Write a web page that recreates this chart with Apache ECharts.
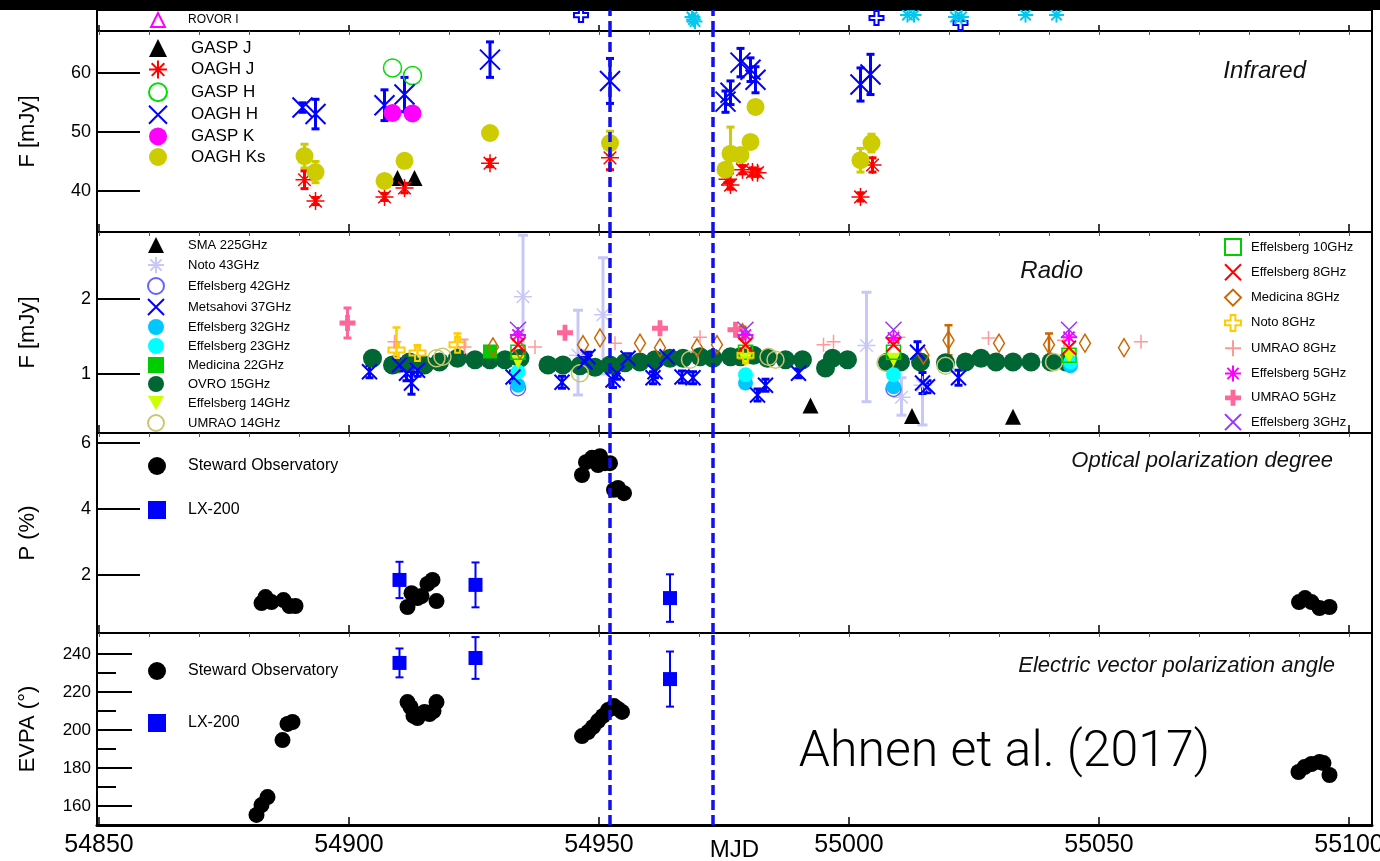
<!DOCTYPE html>
<html>
<head>
<meta charset="utf-8">
<script src="https://cdn.jsdelivr.net/npm/echarts@6.0.0/dist/echarts.min.js"></script>
<style>
html, body { margin: 0; background: #fff; }
#chart { width: 1380px; height: 861px; }
</style>
</head>
<body>
<div id="chart"></div>
<script>
// ---- x axis (MJD) ----
const majorX = [54850, 54900, 54950, 55000, 55050, 55100];
const minorX = [54850, 54860, 54870, 54880, 54890, 54900, 54910, 54920, 54930, 54940, 54950, 54960,
  54970, 54980, 54990, 55000, 55010, 55020, 55030, 55040, 55050, 55060, 55070, 55080, 55090, 55100];
const eventLines = [54952.2, 54972.8];

// ---- top strip (optical panel, cut off) ----
const topCross = [[54946.4, 0.76], [55005.5, 0.62], [55022.3, 0.38]];
const topStar = [[54968.6, 0.67], [54968.9, 0.55], [54969.2, 0.45], [55011.7, 0.76], [55013.0, 0.76],
  [55021.3, 0.67], [55022.5, 0.67], [55035.3, 0.76], [55041.5, 0.76]];

// ---- infrared [MJD, mJy, err] ----
const irGaspJ = [[54909.7, 42.2], [54913.1, 42.2]];
const irOaghJ = [[54891.1, 41.9, 1.5], [54893.3, 38.3, 0.6], [54907.1, 39.0, 0.6], [54911.1, 40.5, 0.8],
  [54928.2, 44.7, 0.6], [54952.2, 45.6, 2.0], [54975.7, 42.0, 0.6], [54976.3, 41.0, 0.7], [54978.7, 43.6, 0.7],
  [54980.7, 43.2, 0.7], [54981.7, 43.1, 0.6], [55002.3, 39.0, 0.7], [55004.7, 44.4, 1.2]];
const irGaspH = [[54908.7, 60.8], [54912.7, 59.5]];
const irOaghH = [[54890.7, 54.1, 0.8], [54893.3, 53.0, 2.5], [54907.1, 54.5, 2.6], [54911.1, 56.3, 2.9],
  [54928.2, 62.2, 3.0], [54952.2, 58.6, 3.8], [54975.3, 55.1, 1.8], [54976.3, 56.6, 2.0], [54978.3, 61.7, 2.4],
  [54980.3, 60.5, 2.0], [54981.3, 58.8, 2.2], [55002.3, 58.0, 2.8], [55004.3, 59.7, 3.4]];
const irGaspK = [[54908.7, 53.2], [54912.7, 53.1]];
const irOaghKs = [[54891.1, 45.9, 2.0], [54893.3, 43.2, 1.8], [54907.1, 41.7, 0], [54911.1, 45.1, 0],
  [54928.2, 49.8, 0], [54952.2, 48.1, 2.0], [54975.3, 43.6, 0.6], [54976.3, 46.3, 4.5], [54978.3, 46.1, 0],
  [54980.3, 48.3, 0], [54981.3, 54.2, 0], [55002.3, 45.2, 2.0], [55004.5, 48.1, 1.5]];

// ---- radio [MJD, Jy, err] or [MJD, Jy, lo, hi] ----
const rSma = [[54992.3, 0.58], [55012.6, 0.44], [55032.8, 0.43]];
const rNoto43 = [[54934.8, 2.03, 1.2, 2.85], [54945.8, 1.25, 0.72, 1.85], [54950.8, 1.79, 1.0, 2.55],
  [55003.5, 1.38, 0.63, 2.09], [55010.5, 0.69, 0.45, 0.95], [55014.7, 0.85, 0.32, 1.15]];
const rEff42 = [[54933.8, 0.81], [55008.9, 0.8]];
const rMets = [[54904.1, 1.03, 0.08], [54910.1, 1.12, 0.08], [54911.5, 1.01, 0.1], [54912.5, 0.88, 0.15],
  [54913.7, 1.05, 0.08], [54932.8, 0.96, 0.08], [54942.6, 0.89, 0.08], [54947.2, 1.16, 0.08], [54947.8, 1.23, 0.06],
  [54952.8, 0.92, 0.1], [54953.6, 1.01, 0.08], [54955.8, 1.21, 0.06], [54960.8, 0.95, 0.08], [54961.2, 1.03, 0.08],
  [54963.6, 1.23, 0.06], [54966.6, 0.96, 0.08], [54968.8, 0.95, 0.08], [54981.7, 0.72, 0.08], [54983.3, 0.85, 0.08],
  [54989.9, 1.01, 0.06], [55013.7, 1.29, 0.14], [55014.7, 0.88, 0.14], [55015.7, 0.83, 0.08], [55021.9, 0.95, 0.1]];
const rEff32 = [[54933.8, 0.85], [54979.3, 0.88], [55008.9, 0.83], [55044.3, 1.11]];
const rEff23 = [[54933.8, 1.03], [54979.3, 0.99], [55008.9, 0.99], [55044.3, 1.16]];
const rMed22 = [[54928.2, 1.30]];
const rOvro = [[54904.7, 1.21], [54908.7, 1.12], [54912.1, 1.16], [54915.1, 1.12], [54918.1, 1.16], [54921.7, 1.21],
  [54925.2, 1.19], [54928.2, 1.19], [54931.2, 1.19], [54934.2, 1.21], [54939.8, 1.12], [54942.8, 1.12],
  [54946.2, 1.11], [54949.2, 1.09], [54952.2, 1.12], [54955.2, 1.15], [54958.2, 1.16], [54961.2, 1.19],
  [54964.2, 1.21], [54966.8, 1.21], [54970.2, 1.23], [54972.8, 1.21], [54976.3, 1.23], [54978.3, 1.23],
  [54980.9, 1.25], [54983.7, 1.21], [54987.3, 1.19], [54990.7, 1.19], [54995.3, 1.08], [54996.7, 1.21],
  [54999.7, 1.19], [55007.7, 1.16], [55010.3, 1.16], [55014.3, 1.16], [55019.3, 1.15], [55023.3, 1.16],
  [55026.4, 1.21], [55029.4, 1.16], [55032.8, 1.16], [55036.4, 1.16], [55040.4, 1.16], [55043.4, 1.16]];
const rEff14 = [[54933.8, 1.16], [54979.3, 1.19], [55008.9, 1.19], [55044.0, 1.23]];
const rUmrao14 = [[54917.5, 1.21], [54918.7, 1.23], [54946.2, 1.01], [54968.2, 1.19], [54983.9, 1.23],
  [54985.3, 1.19], [55007.3, 1.15], [55019.3, 1.11], [55041.0, 1.16]];
const rEff10 = [[54933.8, 1.29], [54979.3, 1.29], [55008.9, 1.29], [55044.0, 1.25]];
const rEff8 = [[54933.8, 1.39], [54979.3, 1.39], [55008.9, 1.39], [55044.0, 1.35]];
const rMed8 = [[54928.8, 1.36, 0], [54934.2, 1.32, 0], [54946.8, 1.39, 0], [54950.2, 1.48, 0], [54958.2, 1.41, 0],
  [54962.2, 1.35, 0], [54969.6, 1.35, 0], [54973.6, 1.39, 0], [54978.7, 1.55, 0.08], [55014.9, 1.25, 0],
  [55019.9, 1.45, 0.2], [55030.0, 1.41, 0], [55040.0, 1.39, 0.15], [55047.2, 1.41, 0], [55055.0, 1.35, 0]];
const rNoto8 = [[54909.5, 1.32, 0.3], [54913.7, 1.28, 0.1], [54921.7, 1.39, 0.15], [54979.3, 1.25, 0.08]];
const rUmrao8 = [[54909.1, 1.43], [54923.1, 1.36, 0.1], [54937.2, 1.36], [54953.2, 1.41], [54970.2, 1.49],
  [54994.9, 1.39], [54996.9, 1.43], [55009.9, 1.49], [55027.9, 1.48], [55043.0, 1.45], [55058.4, 1.43]];
const rEff5 = [[54933.8, 1.52], [54979.3, 1.52], [55008.9, 1.48], [55044.0, 1.49]];
const rUmrao5 = [[54899.7, 1.68, 0.2], [54943.2, 1.55, 0], [54962.2, 1.61, 0], [54977.3, 1.59, 0]];
const rEff3 = [[54933.8, 1.59], [54979.3, 1.59], [55008.9, 1.59], [55044.0, 1.59]];

// ---- optical polarization degree [MJD, %, err] ----
const pSteward = [[54882.5, 1.15], [54883.3, 1.33], [54884.5, 1.18], [54886.9, 1.24], [54888.1, 1.06],
  [54889.3, 1.06], [54911.7, 1.03], [54912.5, 1.45], [54913.7, 1.30], [54914.5, 1.36], [54915.7, 1.73],
  [54916.7, 1.85], [54917.5, 1.21], [54946.6, 5.03], [54947.4, 5.42], [54948.6, 5.55], [54949.8, 5.33],
  [54950.2, 5.6], [54951.2, 5.39], [54952.2, 5.39], [54953.0, 4.58], [54953.8, 4.64], [54955.0, 4.48],
  [55090.0, 1.18], [55091.2, 1.30], [55092.5, 1.18], [55094.1, 1.0], [55096.1, 1.03]];
const pLx = [[54910.1, 1.85, 0.55], [54925.3, 1.70, 0.68], [54964.2, 1.30, 0.72]];

// ---- EVPA [MJD, deg, err] ----
const eSteward = [[54881.5, 155.3], [54882.5, 160.5], [54883.7, 164.7], [54886.7, 194.7], [54887.7, 203.2],
  [54888.7, 204.2], [54911.7, 214.7], [54912.3, 212.1], [54912.9, 207.4], [54913.7, 206.3], [54915.1, 209.5],
  [54916.1, 208.4], [54916.9, 210.0], [54917.5, 214.7], [54946.6, 196.8], [54947.8, 198.9], [54948.8, 201.6],
  [54949.8, 204.7], [54950.8, 207.4], [54951.8, 210.5], [54953.0, 212.6], [54953.8, 211.1], [54954.6, 209.5],
  [55089.9, 177.9], [55091.1, 180.5], [55092.5, 182.1], [55094.1, 183.2], [55094.9, 182.6], [55096.1, 176.3]];
const eLx = [[54910.1, 235.3, 7.6], [54925.3, 237.9, 11], [54964.2, 226.8, 14.5]];

const FONT = '"Liberation Sans", Arial, Helvetica, sans-serif';
const SYM = {
  x: 'path://M0,0L10,10M10,0L0,10',
  star: 'path://M5,0L5,10M0,5L10,5M1.5,1.5L8.5,8.5M8.5,1.5L1.5,8.5',
  plus: 'path://M5,0L5,10M0,5L10,5',
  cross: 'path://M3.5,0L6.5,0L6.5,3.5L10,3.5L10,6.5L6.5,6.5L6.5,10L3.5,10L3.5,6.5L0,6.5L0,3.5L3.5,3.5Z',
  down: 'path://M0,0L10,0L5,9Z'
};

const chart = echarts.init(document.getElementById('chart'));

// grids: top strip, infrared, radio, polarization, EVPA
const panels = [[10, 21], [31, 201], [232, 201], [433, 200], [633, 192]];
const grid = panels.map(p => ({
  left: 97, right: 8, top: p[0], height: p[1], show: true,
  borderColor: '#000', borderWidth: 2, containLabel: false, outerBoundsMode: 'none'
}));

const xMin = 54849.6, xMax = 55104.6;
const xAxis = [];
panels.forEach((p, i) => {
  const last = i === 4;
  xAxis.push({
    type: 'value', gridIndex: i, min: xMin, max: xMax,
    name: last ? 'MJD' : '', nameLocation: 'middle', nameGap: 13, nameMoveOverlap: false,
    nameTextStyle: { fontSize: 24, color: '#000', fontFamily: FONT, verticalAlign: 'top' },
    axisLine: { show: last, onZero: false, lineStyle: { color: '#000', width: 3 } },
    splitLine: { show: false },
    axisTick: { inside: true, length: i === 0 ? 6 : 8, customValues: majorX, lineStyle: { color: '#000', width: 1.5 } },
    axisLabel: { show: last, customValues: majorX, fontSize: 25, color: '#000', margin: 8, fontFamily: FONT,
      formatter: v => String(v) }
  });
  xAxis.push({
    type: 'value', gridIndex: i, min: xMin, max: xMax,
    axisLine: { show: false }, splitLine: { show: false }, axisLabel: { show: false },
    axisTick: { inside: true, length: 4, customValues: minorX, lineStyle: { color: '#555', width: 1 } }
  });
});
// ticks hanging from the top of the radio panel
xAxis.push({
  type: 'value', gridIndex: 2, position: 'top', min: xMin, max: xMax,
  axisLine: { show: false }, splitLine: { show: false }, axisLabel: { show: false },
  axisTick: { inside: true, length: 4, customValues: minorX, lineStyle: { color: '#555', width: 1 } }
});

function yAx(g, min, max, ticks, name, len, fs) {
  return {
    type: 'value', gridIndex: g, position: 'left', min: min, max: max, name: name,
    nameLocation: 'middle', nameRotate: 90, nameGap: 58, nameMoveOverlap: false,
    nameTextStyle: { fontSize: 22, color: '#000', fontFamily: FONT },
    axisLine: { show: false }, splitLine: { show: false },
    axisTick: { inside: true, length: len, customValues: ticks, lineStyle: { color: '#000', width: 2 } },
    axisLabel: { customValues: ticks, fontSize: fs, color: '#000', margin: 6, fontFamily: FONT }
  };
}
const yAxis = [
  { type: 'value', gridIndex: 0, min: 0, max: 1, show: false },
  yAx(1, 33.07, 67.04, [40, 50, 60], 'F [mJy]', 43, 18),
  yAx(2, 0.213, 2.893, [1, 2], 'F [mJy]', 43, 18),
  yAx(3, 0.242, 6.303, [2, 4, 6], 'P (%)', 43, 18),
  yAx(4, 150, 251.05, [160, 180, 200, 220, 240], 'EVPA (°)', 35, 17),
  {
    type: 'value', gridIndex: 4, position: 'left', offset: 0, min: 150, max: 251.05,
    axisLine: { show: false }, splitLine: { show: false }, axisLabel: { show: false },
    axisTick: { inside: true, length: 19, customValues: [170, 190, 210, 230], lineStyle: { color: '#000', width: 2 } }
  }
];

function sc(name, g, data, symbol, size, fill, stroke, bw) {
  return {
    type: 'scatter', name: name, xAxisIndex: 2 * g, yAxisIndex: g, data: data,
    symbol: symbol, symbolSize: size, silent: true,
    itemStyle: { color: fill, borderColor: stroke || fill, borderWidth: bw || 0, opacity: 1 }
  };
}
function errRender(color, w, cap) {
  return function (params, api) {
    const a = api.coord([api.value(0), api.value(2)]);
    const b = api.coord([api.value(0), api.value(1)]);
    const st = { stroke: color, lineWidth: w };
    return {
      type: 'group', children: [
        { type: 'line', shape: { x1: a[0], y1: a[1], x2: b[0], y2: b[1] }, style: st },
        { type: 'line', shape: { x1: a[0] - cap, y1: a[1], x2: a[0] + cap, y2: a[1] }, style: st },
        { type: 'line', shape: { x1: b[0] - cap, y1: b[1], x2: b[0] + cap, y2: b[1] }, style: st }
      ]
    };
  };
}
function eb(g, data, color, w, cap) {
  const rows = data.filter(d => d.length > 3 || d[2] > 0)
    .map(d => d.length > 3 ? [d[0], d[2], d[3]] : [d[0], d[1] - d[2], d[1] + d[2]]);
  return {
    type: 'custom', xAxisIndex: 2 * g, yAxisIndex: g, silent: true, data: rows,
    encode: { x: 0, y: [1, 2] }, renderItem: errRender(color, w, cap)
  };
}
function vlines(g) {
  return {
    type: 'scatter', xAxisIndex: 2 * g, yAxisIndex: g, data: [], silent: true,
    markLine: {
      silent: true, symbol: 'none', label: { show: false }, animation: false,
      lineStyle: { color: '#1010f0', width: 3.5, type: [10, 5] },
      data: eventLines.map(v => ({ xAxis: v }))
    }
  };
}

const T = 'transparent';
const series = [
  vlines(0), vlines(1), vlines(2), vlines(3), vlines(4),
  // top strip
  sc('ROVOR I', 0, [], 'triangle', 12, T, '#ff00ff', 1.5),
  sc('opt cross', 0, topCross, SYM.cross, 14, T, '#0000ff', 2),
  sc('opt star', 0, topStar, SYM.star, 15, T, '#00c8f0', 2),
  // infrared
  eb(1, irOaghKs, '#cccc00', 3, 4),
  eb(1, irOaghJ, '#ff0000', 3, 4),
  eb(1, irOaghH, '#0000ff', 3, 4),
  sc('GASP J', 1, irGaspJ, 'triangle', 16, '#000'),
  sc('OAGH J', 1, irOaghJ, SYM.star, 18, T, '#ff0000', 1.5),
  sc('GASP H', 1, irGaspH, 'circle', 18, T, '#00dd00', 1.5),
  sc('OAGH H', 1, irOaghH, SYM.x, 20, T, '#0000ff', 2),
  sc('GASP K', 1, irGaspK, 'circle', 18, '#ff00ff'),
  sc('OAGH Ks', 1, irOaghKs, 'circle', 18, '#cccc00'),
  // radio
  eb(2, rNoto43, '#c8c8f8', 3, 5),
  sc('Noto 43GHz', 2, rNoto43, SYM.star, 18, T, '#c8c8f8', 1.5),
  sc('OVRO 15GHz', 2, rOvro, 'circle', 19, '#006633'),
  sc('UMRAO 14GHz', 2, rUmrao14, 'circle', 17, T, '#c8c870', 1.5),
  sc('Effelsberg 42GHz', 2, rEff42, 'circle', 15, T, '#6464ff', 1.5),
  sc('Effelsberg 32GHz', 2, rEff32, 'circle', 15, '#00c8ff'),
  sc('Effelsberg 23GHz', 2, rEff23, 'circle', 15, '#00ffff'),
  sc('Medicina 22GHz', 2, rMed22, 'rect', 14, '#00cc00'),
  sc('Effelsberg 14GHz', 2, rEff14, SYM.down, 14, '#ccff00'),
  sc('Effelsberg 10GHz', 2, rEff10, 'rect', 14, T, '#00cc00', 1.5),
  eb(2, rMed8, '#cc6600', 2.5, 4),
  sc('Medicina 8GHz', 2, rMed8, 'diamond', [11, 18], T, '#cc6600', 1.5),
  eb(2, rNoto8, '#ffcc00', 2.5, 4),
  sc('Noto 8GHz', 2, rNoto8, SYM.cross, 16, T, '#ffcc00', 2),
  eb(2, rUmrao8, '#ff9999', 2, 4),
  sc('UMRAO 8GHz', 2, rUmrao8, SYM.plus, 14, T, '#ff9999', 1.5),
  eb(2, rUmrao5, '#ff6699', 3, 4),
  sc('UMRAO 5GHz', 2, rUmrao5, SYM.cross, 16, '#ff6699'),
  sc('Effelsberg 5GHz', 2, rEff5, SYM.star, 16, T, '#ff00ff', 2),
  sc('Effelsberg 3GHz', 2, rEff3, SYM.x, 16, T, '#9933ff', 1.5),
  sc('Effelsberg 8GHz', 2, rEff8, SYM.x, 14, T, '#ff0000', 2),
  eb(2, rMets, '#0000ff', 3, 4),
  sc('Metsahovi 37GHz', 2, rMets, SYM.x, 15, T, '#0000ff', 2),
  sc('SMA 225GHz', 2, rSma, 'triangle', 16, '#000'),
  // polarization degree
  eb(3, pLx, '#0000ff', 2, 4),
  sc('LX-200', 3, pLx, 'rect', 14, '#0000ff'),
  sc('Steward Observatory', 3, pSteward, 'circle', 16, '#000'),
  // EVPA
  eb(4, eLx, '#0000ff', 2, 4),
  sc('LX-200', 4, eLx, 'rect', 14, '#0000ff'),
  sc('Steward Observatory', 4, eSteward, 'circle', 16, '#000')
];

// square icons; pad pushes the text to where the reference has it
function leg(names, left, top, size, gap, fs, pad) {
  return {
    data: names, orient: 'vertical', left: left, top: top, padding: 0,
    itemWidth: size, itemHeight: size, itemGap: gap, selectedMode: false, symbolKeepAspect: true,
    textStyle: { fontSize: fs, lineHeight: size, color: '#000', fontFamily: FONT, padding: [0, 0, 0, pad] }
  };
}
const legend = [
  leg(['ROVOR I'], 150, 12, 14, 0, 12, 18),
  leg(['GASP J', 'OAGH J', 'GASP H', 'OAGH H', 'GASP K', 'OAGH Ks'], 148, 39, 18, 2.6, 17, 19),
  leg(['SMA 225GHz', 'Noto 43GHz', 'Effelsberg 42GHz', 'Metsahovi 37GHz', 'Effelsberg 32GHz', 'Effelsberg 23GHz',
    'Medicina 22GHz', 'OVRO 15GHz', 'Effelsberg 14GHz', 'UMRAO 14GHz'], 147, 237, 16, 3.0, 13, 19),
  leg(['Effelsberg 10GHz', 'Effelsberg 8GHz', 'Medicina 8GHz', 'Noto 8GHz', 'UMRAO 8GHz', 'Effelsberg 5GHz',
    'UMRAO 5GHz', 'Effelsberg 3GHz'], 1224, 238, 16, 7.3, 13, 5),
  leg(['Steward Observatory', 'LX-200'], 148, 457, 18, 26, 16, 17),
  leg(['Steward Observatory', 'LX-200'], 148, 662, 18, 34, 16, 17)
];

function ttl(text, right, top, fs, extra) {
  return {
    text: text, right: right, top: top, padding: 0,
    textStyle: Object.assign({ fontSize: fs, fontStyle: 'italic', fontWeight: 'normal', color: '#111', fontFamily: FONT }, extra || {})
  };
}
const title = [
  ttl('Infrared', 74, 59, 24),
  ttl('Radio', 297, 259, 24),
  ttl('Optical polarization degree', 47, 450, 22),
  ttl('Electric vector polarization angle', 45, 655, 22),
  ttl('Ahnen et al. (2017)', 170, 728, 50, { fontStyle: 'normal', fontWeight: 300, fontFamily: 'Roboto, "Open Sans", sans-serif', color: '#000' })
];

chart.setOption({
  animation: false,
  backgroundColor: '#fff',
  title: title,
  legend: legend,
  grid: grid,
  xAxis: xAxis,
  yAxis: yAxis,
  series: series,
  graphic: [{ type: 'rect', left: 0, top: 0, z: 100, shape: { width: 1380, height: 10 }, style: { fill: '#000' } }]
});
window.onresize = function () { chart.resize(); };
</script>
</body>
</html>
